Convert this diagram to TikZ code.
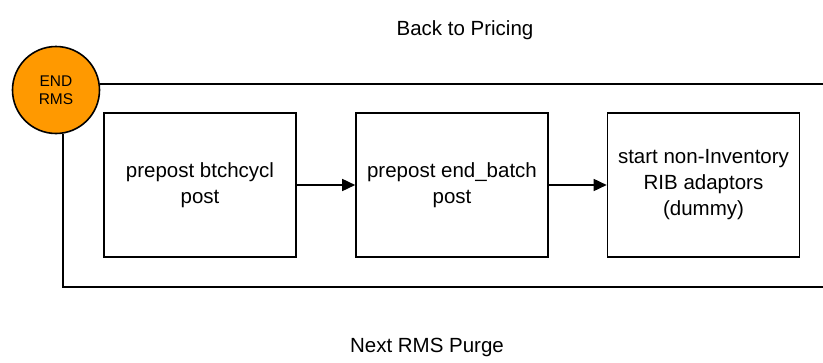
\documentclass[tikz,border=0pt]{standalone}
\usepackage{fontspec}
\setmainfont{Liberation Sans}
\usetikzlibrary{arrows.meta, positioning}
\definecolor{endorange}{RGB}{255,153,0}

\begin{document}
\begin{tikzpicture}[
		x=1pt, y=-1pt,
		>={Triangle[length=13pt, width=12pt]},
		stage/.style={draw, line width=1.6pt, minimum width=192pt, minimum height=144pt, align=center, font=\fontsize{20.5}{26}\selectfont},
		flow/.style={line width=1.6pt, ->},
		frame/.style={line width=1.6pt},
		endpoint/.style={circle, draw, line width=1.6pt, fill=endorange, minimum size=87pt, inner sep=0pt, align=center, font=\fontsize{15.5}{18}\selectfont},
		caption/.style={font=\fontsize{20.5}{24}\selectfont},
	]
	\useasboundingbox (0,0) rectangle (823,362);
	\node[endpoint] (endrms) at (56,90) {END\\RMS};
	\node[stage] (s1) at (200,185) {prepost btchcycl\\post};
	\node[stage] (s2) at (452,185) {prepost end\_batch\\post};
	\node[stage] (s3) at (703.5,185) {start non-Inventory\\RIB adaptors\\(dummy)};
	\draw[flow] (s1) -- (s2);
	\draw[flow] (s2) -- (s3);
	% frame round the stages
	\coordinate (topright) at (823,84);
	\coordinate (botleft) at (63,287);
	\coordinate (botright) at (823,287);
	\draw[frame] (endrms.east |- topright) -- (topright);
	\draw[frame] (endrms.south -| botleft) -- (botleft) -- (botright);
	\node[caption] (back) at (465,30) {Back to Pricing};
	\node[caption] (next) at (427,347) {Next RMS Purge};
\end{tikzpicture}
\end{document}
